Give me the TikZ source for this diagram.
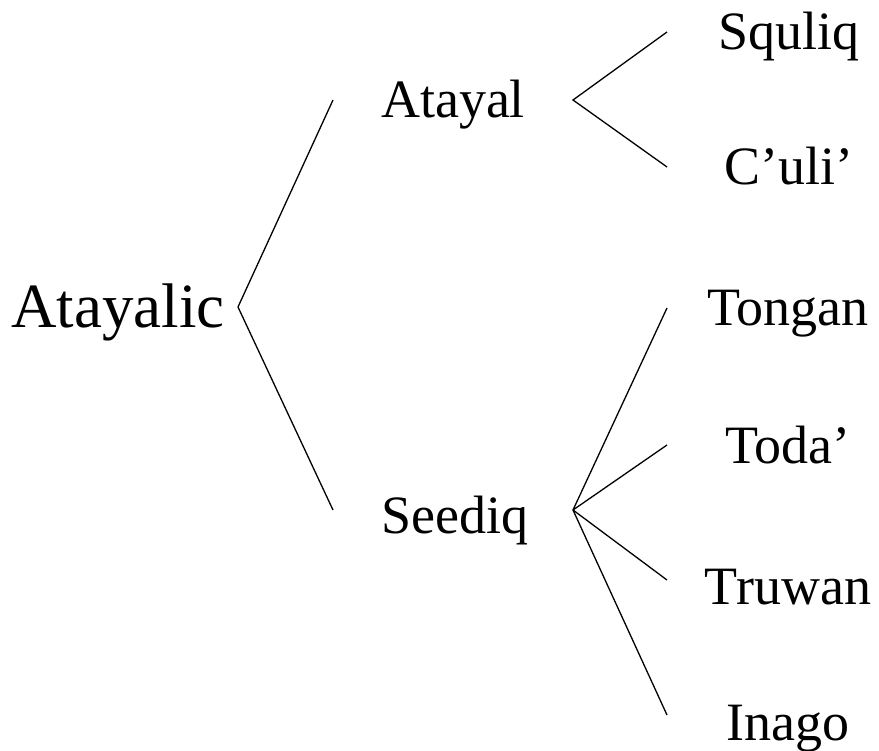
\documentclass[tikz,border=0pt]{standalone}
\usepackage{fontspec}
\setmainfont{Liberation Serif}
\begin{document}
\begin{tikzpicture}[x=1pt,y=-1pt,
  lbl/.style={inner sep=0pt,anchor=base,font=\fontsize{54}{60}\selectfont},
  rootlbl/.style={lbl,font=\fontsize{63}{70}\selectfont},
  branch/.style={line width=1.3pt,black}]
\useasboundingbox (0,0) rectangle (879,751);
% labels
\node[rootlbl] (atayalic) at (118,328) {Atayalic};
\node[lbl] (atayal) at (453,118) {Atayal};
\node[lbl] (seediq) at (455,533) {Seediq};
\node[lbl] (squliq) at (789,50) {Squliq};
\node[lbl] (culi) at (789,185) {C’uli’};
\node[lbl] (tongan) at (788,326) {Tongan};
\node[lbl] (toda) at (788,464) {Toda’};
\node[lbl] (truwan) at (788,604) {Truwan};
\node[lbl] (inago) at (788,740) {Inago};
% vertices and ends
\coordinate (v0) at (238,307);
\coordinate (e0a) at (333,100);
\coordinate (e0b) at (333,510);
\coordinate (v1) at (573,100);
\coordinate (e1a) at (667,32);
\coordinate (e1b) at (667,167);
\coordinate (v2) at (573,510);
\coordinate (e2a) at (667,308);
\coordinate (e2b) at (667,445);
\coordinate (e2c) at (667,580);
\coordinate (e2d) at (667,715);
% branches
\draw[branch] (e0a) -- (v0) -- (e0b);
\draw[branch] (e1a) -- (v1) -- (e1b);
\draw[branch] (v2) -- (e2a);
\draw[branch] (v2) -- (e2b);
\draw[branch] (v2) -- (e2c);
\draw[branch] (v2) -- (e2d);
\end{tikzpicture}
\end{document}
